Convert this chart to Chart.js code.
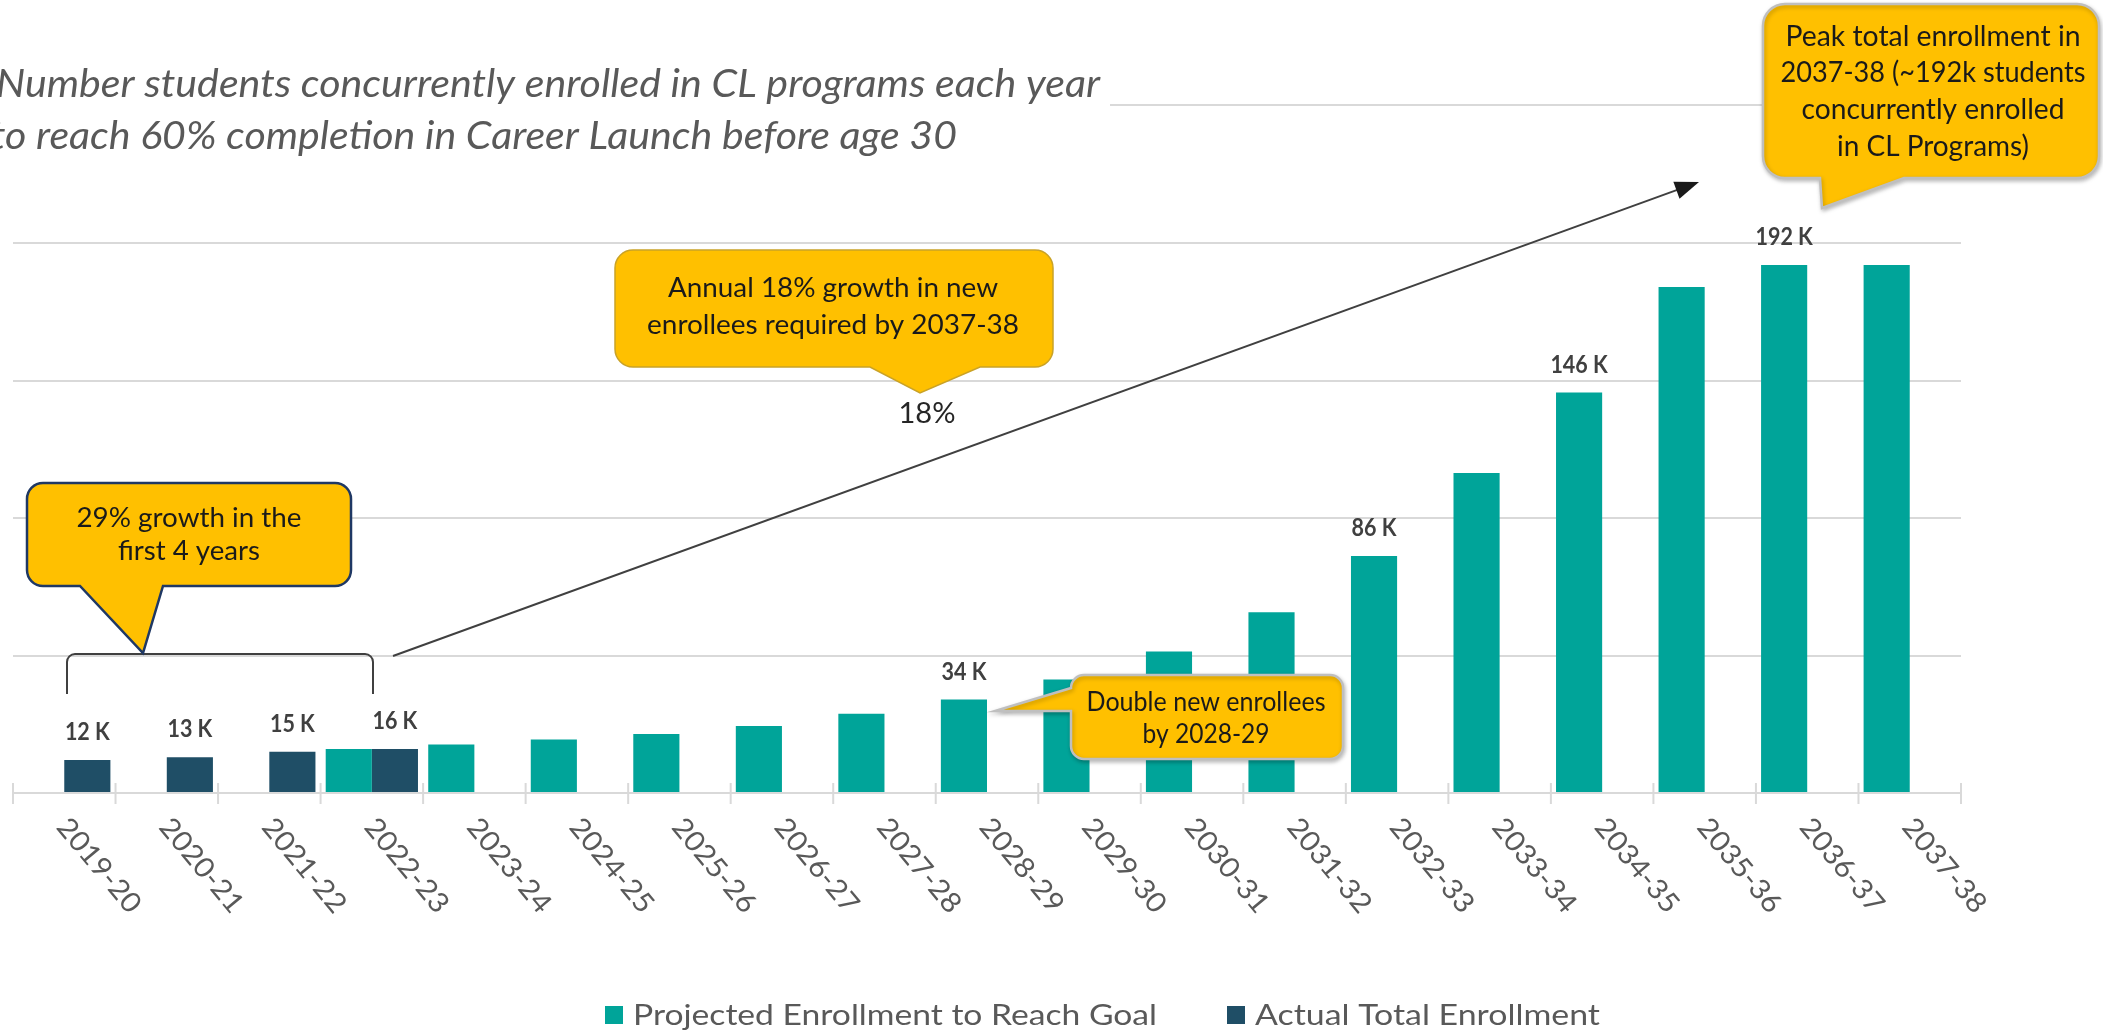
<!DOCTYPE html>
<html>
<head>
<meta charset="utf-8">
<script src="https://cdn.jsdelivr.net/npm/chart.js@4.4.0/dist/chart.umd.min.js"></script>
<style>
  html, body { margin: 0; padding: 0; background: #fff; }
  #wrap { width: 2103px; height: 1035px; }
</style>
</head>
<body>
<div id="wrap"><canvas id="enrollChart" width="2103" height="1035"></canvas></div>
<script>
// school years on the x axis
const years = ['2019-20', '2020-21', '2021-22', '2022-23', '2023-24', '2024-25', '2025-26',
  '2026-27', '2027-28', '2028-29', '2029-30', '2030-31', '2031-32', '2032-33', '2033-34',
  '2034-35', '2035-36', '2036-37', '2037-38'];

// thousands of students
const projected = [null, null, null, 16, 17.6, 19.5, 21.5, 24.4, 28.8, 34, 41.3, 51.5,
  65.7, 86.2, 116.4, 145.6, 184, 192, 192];
const actual = [12, 13, 15, 16, null, null, null, null, null, null, null, null,
  null, null, null, null, null, null, null];

// value labels shown above some bars
const projectedLabels = [null, null, null, null, null, null, null, null, null, '34 K', null, null,
  null, '86 K', null, '146 K', null, '192 K', null];
const actualLabels = ['12 K', '13 K', '15 K', '16 K', null, null, null, null, null, null, null, null,
  null, null, null, null, null, null, null];

const yTicks = [0, 50, 100, 150, 200];

const TEAL = '#00A499';
const NAVY = '#1F4E66';
const GOLD = '#FFC000';
const FONT = 'Lato, "Open Sans", sans-serif';

// draw text squeezed/stretched to a given width
function fitText(ctx, text, x, y, width, align) {
  ctx.save();
  ctx.textAlign = 'left';
  const w = ctx.measureText(text).width;
  const sx = width / w;
  let left = x;
  if (align === 'center') left = x - width / 2;
  ctx.translate(left, y);
  ctx.scale(sx, 1);
  ctx.fillText(text, 0, 0);
  ctx.restore();
}

function callout(ctx, o) {
  const { x, y, w, h, r, side, a, b, tip } = o;
  ctx.beginPath();
  ctx.moveTo(x + r, y);
  ctx.lineTo(x + w - r, y);
  ctx.arcTo(x + w, y, x + w, y + r, r);
  ctx.lineTo(x + w, y + h - r);
  ctx.arcTo(x + w, y + h, x + w - r, y + h, r);
  if (side === 'bottom') {
    ctx.lineTo(b, y + h);
    ctx.lineTo(tip[0], tip[1]);
    ctx.lineTo(a, y + h);
  }
  ctx.lineTo(x + r, y + h);
  ctx.arcTo(x, y + h, x, y + h - r, r);
  if (side === 'left') {
    ctx.lineTo(x, b);
    ctx.lineTo(tip[0], tip[1]);
    ctx.lineTo(x, a);
  }
  ctx.lineTo(x, y + r);
  ctx.arcTo(x, y, x + r, y, r);
  ctx.closePath();
  ctx.fillStyle = GOLD;
  ctx.fill();
  ctx.strokeStyle = o.border;
  ctx.lineWidth = o.lw;
  ctx.stroke();
}

const overlay = {
  id: 'overlay',
  afterDraw(chart) {
    const ctx = chart.ctx;
    const xs = chart.scales.x;
    const area = chart.chartArea;
    const step = xs.getPixelForValue(1) - xs.getPixelForValue(0);
    ctx.save();

    // category tick marks across the baseline
    ctx.strokeStyle = '#D9D9D9';
    ctx.lineWidth = 2;
    for (let i = 0; i <= years.length; i++) {
      const x = xs.getPixelForValue(i) - step / 2;
      ctx.beginPath();
      ctx.moveTo(x, area.bottom - 10);
      ctx.lineTo(x, area.bottom + 11);
      ctx.stroke();
    }

    // rotated year labels
    ctx.fillStyle = '#595959';
    ctx.font = '28px ' + FONT;
    ctx.textBaseline = 'middle';
    years.forEach((yr, i) => {
      const cx = xs.getPixelForValue(i);
      ctx.save();
      ctx.translate(cx - 2, area.bottom + 29);
      ctx.rotate(50 * Math.PI / 180);
      fitText(ctx, yr, 0, 0, 114, 'left');
      ctx.restore();
    });

    // value labels
    ctx.font = 'bold 25px ' + FONT;
    ctx.fillStyle = '#404040';
    [[0, projectedLabels], [1, actualLabels]].forEach(([di, labels]) => {
      const meta = chart.getDatasetMeta(di);
      labels.forEach((t, i) => {
        if (!t) return;
        const bar = meta.data[i];
        const w = ctx.measureText(t).width * 0.86;
        fitText(ctx, t, bar.x, bar.y - 28, w, 'center');
      });
    });

    // title
    ctx.fillStyle = '#595959';
    ctx.font = 'italic 38px ' + FONT;
    fitText(ctx, 'Number students concurrently enrolled in CL programs each year', -4, 85, 1104, 'left');
    fitText(ctx, 'to reach 60% completion in Career Launch before age 30', -9, 137, 966, 'left');
    ctx.strokeStyle = '#D9D9D9';
    ctx.lineWidth = 2;
    ctx.beginPath();
    ctx.moveTo(1110, 105);
    ctx.lineTo(1763, 105);
    ctx.stroke();

    // bracket over the first four years
    ctx.strokeStyle = '#404040';
    ctx.lineWidth = 2;
    ctx.beginPath();
    ctx.moveTo(67, 694);
    ctx.lineTo(67, 662);
    ctx.arcTo(67, 654, 75, 654, 8);
    ctx.lineTo(365, 654);
    ctx.arcTo(373, 654, 373, 662, 8);
    ctx.lineTo(373, 694);
    ctx.stroke();

    // growth arrow
    const ax0 = 393, ay0 = 656, ax1 = 1699, ay1 = 182;
    const ang = Math.atan2(ay1 - ay0, ax1 - ax0);
    ctx.beginPath();
    ctx.moveTo(ax0, ay0);
    ctx.lineTo(ax1 - 18 * Math.cos(ang), ay1 - 18 * Math.sin(ang));
    ctx.stroke();
    ctx.fillStyle = '#1a1a1a';
    ctx.beginPath();
    ctx.moveTo(ax1, ay1);
    ctx.lineTo(ax1 - 24 * Math.cos(ang) + 9 * Math.sin(ang), ay1 - 24 * Math.sin(ang) - 9 * Math.cos(ang));
    ctx.lineTo(ax1 - 24 * Math.cos(ang) - 9 * Math.sin(ang), ay1 - 24 * Math.sin(ang) + 9 * Math.cos(ang));
    ctx.closePath();
    ctx.fill();

    // callouts
    callout(ctx, { x: 27, y: 483, w: 324, h: 103, r: 16, side: 'bottom', a: 80, b: 163, tip: [143, 653], border: '#1F3864', lw: 2.5 });
    callout(ctx, { x: 615, y: 250, w: 438, h: 117, r: 18, side: 'bottom', a: 870, b: 980, tip: [920, 393], border: '#C9A227', lw: 1.5 });
    ctx.save();
    ctx.shadowColor = 'rgba(0,0,0,0.25)';
    ctx.shadowBlur = 4;
    ctx.shadowOffsetX = 1;
    ctx.shadowOffsetY = 2;
    callout(ctx, { x: 1071, y: 675, w: 272, h: 84, r: 13, side: 'left', a: 688, b: 711, tip: [995, 711], border: '#BFBFBF', lw: 2.5 });
    callout(ctx, { x: 1763, y: 4, w: 336, h: 174, r: 22, side: 'bottom', a: 1820, b: 1904, tip: [1822, 208], border: '#BFBFBF', lw: 2.5 });
    ctx.restore();

    ctx.fillStyle = '#1a1a1a';
    ctx.textBaseline = 'middle';
    ctx.font = '27px ' + FONT;
    fitText(ctx, '29% growth in the', 189, 518, 225, 'center');
    fitText(ctx, 'first 4 years', 189, 551, 142, 'center');
    fitText(ctx, 'Annual 18% growth in new', 833, 288, 330, 'center');
    fitText(ctx, 'enrollees required by 2037-38', 833, 325, 372, 'center');
    fitText(ctx, 'Double new enrollees', 1206, 702, 239, 'center');
    fitText(ctx, 'by 2028-29', 1206, 734, 127, 'center');
    ctx.font = '28px ' + FONT;
    fitText(ctx, 'Peak total enrollment in', 1933, 37, 295, 'center');
    fitText(ctx, '2037-38 (~192k students', 1933, 73, 305, 'center');
    fitText(ctx, 'concurrently enrolled', 1933, 110, 263, 'center');
    fitText(ctx, 'in CL Programs)', 1933, 147, 192, 'center');

    ctx.fillStyle = '#262626';
    ctx.font = '28px ' + FONT;
    fitText(ctx, '18%', 927, 414, 57, 'center');

    // legend
    const items = [
      { x: 605, tx: 633, tw: 524 },
      { x: 1227, tx: 1255, tw: 345 }
    ];
    ctx.font = '29px ' + FONT;
    chart.data.datasets.forEach((ds, i) => {
      const it = items[i];
      ctx.fillStyle = ds.backgroundColor;
      ctx.fillRect(it.x, 1006, 18, 18);
      ctx.fillStyle = '#595959';
      fitText(ctx, ds.label, it.tx, 1016, it.tw, 'left');
    });

    ctx.restore();
  }
};

new Chart(document.getElementById('enrollChart'), {
  type: 'bar',
  data: {
    labels: years,
    datasets: [
      { label: 'Projected Enrollment to Reach Goal', data: projected, backgroundColor: TEAL },
      { label: 'Actual Total Enrollment', data: actual, backgroundColor: NAVY }
    ]
  },
  options: {
    responsive: false,
    animation: false,
    devicePixelRatio: 1,
    layout: { padding: { left: 13, right: 142, top: 243, bottom: 0 } },
    datasets: { bar: { categoryPercentage: 0.9, barPercentage: 1.0 } },
    plugins: {
      legend: { display: false },
      tooltip: { enabled: false }
    },
    scales: {
      x: {
        grid: { display: true, drawOnChartArea: false, drawTicks: false },
        border: { display: true, color: '#D9D9D9', width: 2 },
        ticks: { display: false },
        afterFit: (scale) => { scale.height = 242; }
      },
      y: {
        min: yTicks[0],
        max: yTicks[yTicks.length - 1],
        ticks: { display: false, stepSize: yTicks[1] - yTicks[0] },
        grid: { color: '#D9D9D9', lineWidth: 2, drawTicks: false },
        border: { display: false },
        afterFit: (scale) => { scale.width = 0; }
      }
    }
  },
  plugins: [overlay]
});
</script>
</body>
</html>
